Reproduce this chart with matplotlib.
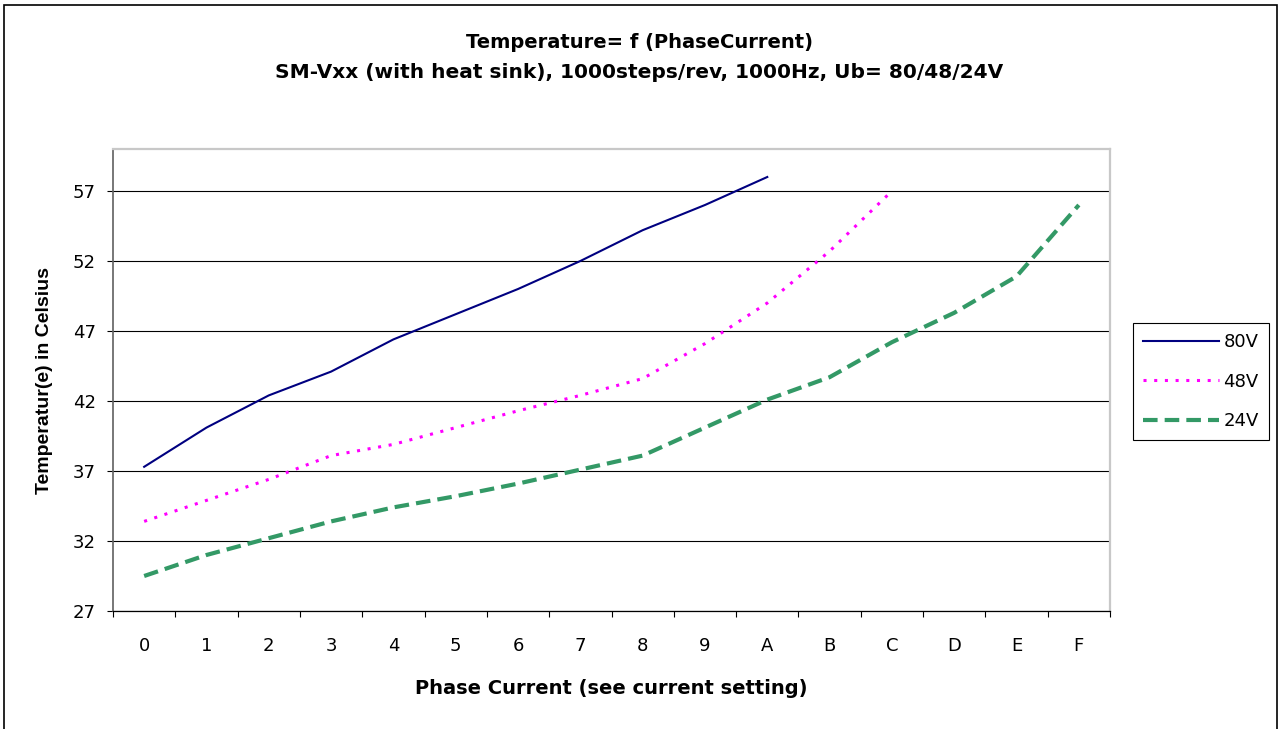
import numpy as np
import matplotlib
matplotlib.use("Agg")
import matplotlib.pyplot as plt
from matplotlib.patches import Rectangle

plt.rcParams['font.family'] = ['DejaVu Sans']

# phase current settings (hex steps)
cats = ['0', '1', '2', '3', '4', '5', '6', '7', '8', '9', 'A', 'B', 'C', 'D', 'E', 'F']

# temperatures
t80 = [37.3, 40.1, 42.4, 44.1, 46.4, 48.2, 50.0, 52.0, 54.2, 56.0, 58.0]
t48 = [33.4, 34.9, 36.4, 38.1, 38.9, 40.1, 41.3, 42.4, 43.6, 46.1, 49.0, 52.7, 57.0]
t24 = [29.5, 31.0, 32.2, 33.4, 34.4, 35.2, 36.1, 37.1, 38.1, 40.1, 42.1, 43.7, 46.2, 48.3, 50.9, 56.0]

fig = plt.figure(figsize=(12.79, 7.29), dpi=100)
ax = fig.add_axes([113/1279, 118/729, 997/1279, 462/729])

x = np.arange(len(cats))
ax.plot(x[:len(t80)], t80, color='#000080', lw=1.5, label='80V')
ax.plot(x[:len(t48)], t48, color='#FF00FF', lw=2.2, ls=(0, (1, 2.5)), label='48V')
ax.plot(x[:len(t24)], t24, color='#339966', lw=3.0, ls=(0, (3.5, 1.7)), label='24V')

ax.set_xlim(-0.5, len(cats) - 0.5)
ax.set_ylim(27, 60)
ax.set_yticks(np.arange(27, 58, 5))
ax.yaxis.grid(True, color='black', lw=0.8)
ax.set_axisbelow(True)

ax.set_xticks(x)
ax.set_xticklabels(cats)
ax.set_xticks(np.arange(-0.5, len(cats), 1), minor=True)
ax.tick_params(axis='x', which='major', length=0, pad=19, labelsize=13)
ax.tick_params(axis='x', which='minor', length=4.5, width=0.8, direction='out')
ax.tick_params(axis='y', length=4.5, width=0.8, pad=8, labelsize=13)

ax.spines['bottom'].set_color('black')
ax.spines['bottom'].set_linewidth(0.9)
ax.spines['left'].set_color('#606060')
ax.spines['left'].set_linewidth(1.2)
for s in ('top', 'right'):
    ax.spines[s].set_color('#C8C8C8')
    ax.spines[s].set_linewidth(1.6)

ax.set_xlabel('Phase Current (see current setting)', fontsize=14, fontweight='bold', labelpad=17)
ax.set_ylabel('Temperatur(e) in Celsius', fontsize=14, fontweight='bold', labelpad=14,
              family='Liberation Sans')

fig.text(0.5, 1 - 42/729, 'Temperature= f (PhaseCurrent)', ha='center', va='center',
         fontsize=14, fontweight='bold')
fig.text(0.5, 1 - 73/729, 'SM-Vxx (with heat sink), 1000steps/rev, 1000Hz, Ub= 80/48/24V',
         ha='center', va='center', fontsize=14.5, fontweight='bold')

leg = fig.legend(loc='upper left', bbox_to_anchor=(1133/1279, 1 - 323/729), fontsize=13,
                 handlelength=4.2, labelspacing=1.2, handletextpad=0.25, borderpad=0.55,
                 borderaxespad=0, fancybox=False, framealpha=1, edgecolor='black')
leg.get_frame().set_linewidth(0.8)

# outer chart border
fig.patches.append(Rectangle((4/1279, -0.05), 1273/1279, 1.05 - 5/729, transform=fig.transFigure,
                             fill=False, edgecolor='black', lw=1.2))

fig.savefig('out.png', dpi=100)
